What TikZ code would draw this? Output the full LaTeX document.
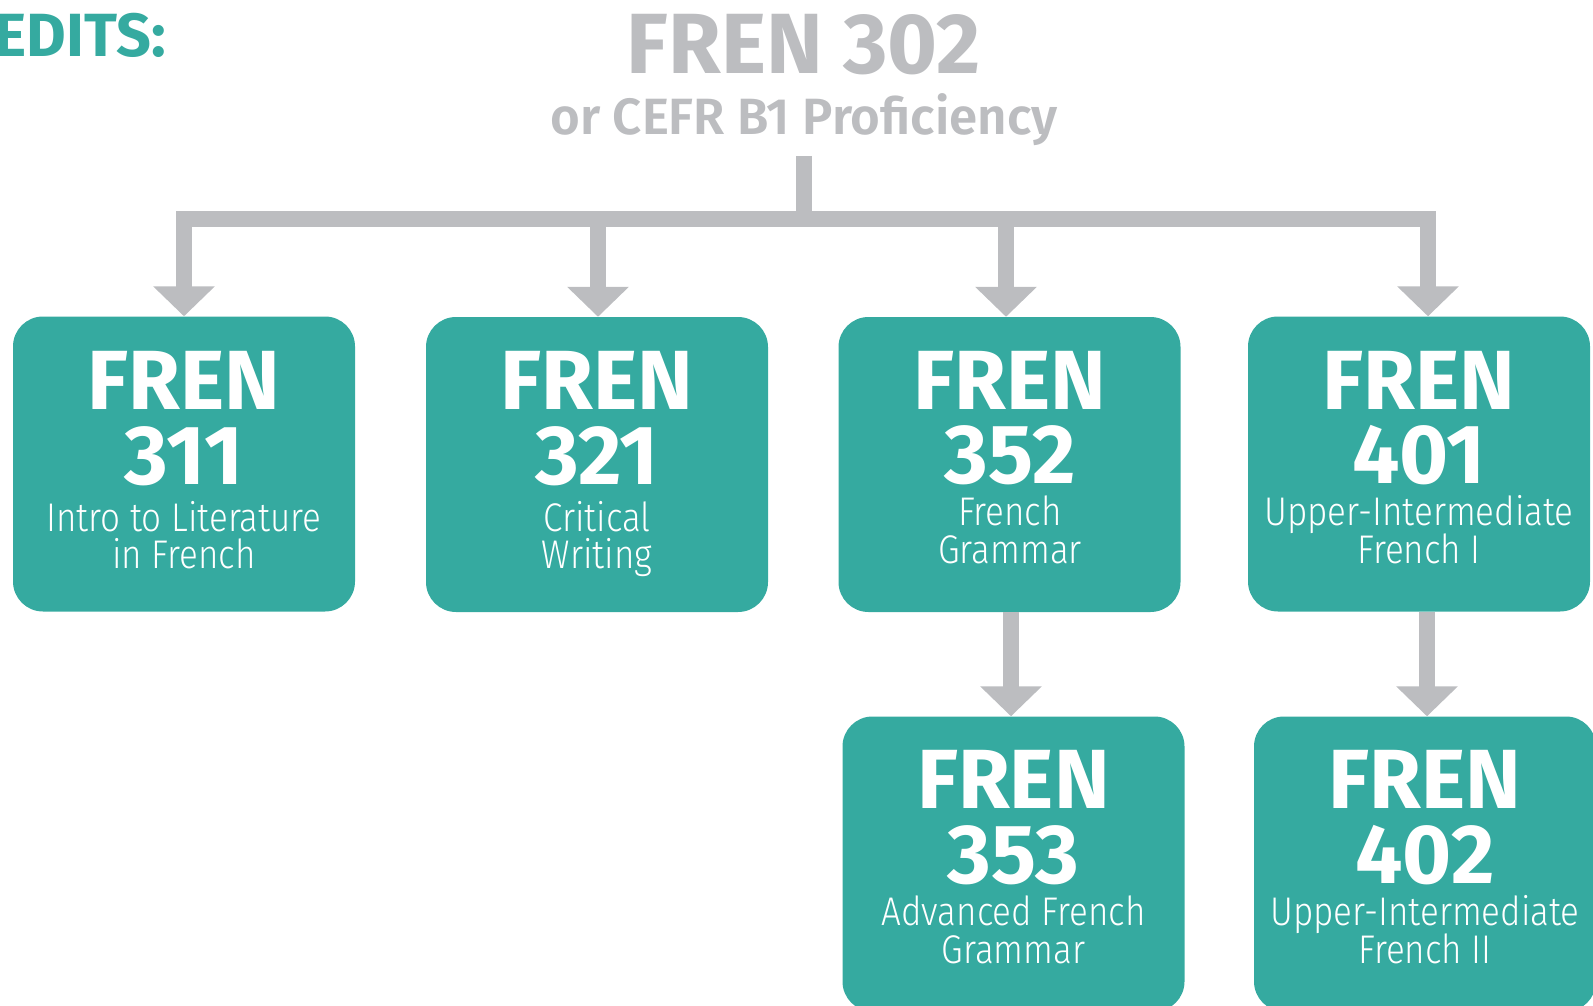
\documentclass[tikz,border=0pt]{standalone}
\usepackage{fontspec}
\setmainfont{Fira Sans}
\newfontfamily\boldf{Fira Sans Bold}
\newfontfamily\semif{Fira Sans SemiBold}
\newfontfamily\lightf{Fira Sans Light}[FakeStretch=0.875]
\usetikzlibrary{arrows.meta}
\definecolor{tealbox}{HTML}{35AAA0}
\definecolor{greyline}{HTML}{BCBDC0}
\tikzset{
  coursebox/.style={fill=tealbox, draw=none, rounded corners=30pt, minimum width=342pt, minimum height=295pt, inner sep=0pt},
  big/.style={text=white, font=\boldf\fontsize{84}{84}\selectfont, anchor=base, inner sep=0pt},
  small/.style={text=white, font=\lightf\fontsize{40}{40}\selectfont, anchor=base, inner sep=0pt},
  titletext/.style={text=greyline, font=\boldf\fontsize{85.5}{85.5}\selectfont, anchor=base, inner sep=0pt},
  subtext/.style={text=greyline, font=\semif\fontsize{51}{51}\selectfont, anchor=base, inner sep=0pt},
  conn/.style={draw=greyline, line width=16pt, -{Triangle[width=60pt,length=30pt]}},
  plainline/.style={draw=greyline, line width=16pt}
}
\begin{document}
\begin{tikzpicture}[x=1pt,y=-1pt]
\useasboundingbox (0,0) rectangle (1593,1006);

% header
\node[text=tealbox, font=\boldf\fontsize{61}{61}\selectfont, anchor=base east, inner sep=0pt] (credits) at (166,57) {EDITS:};
\node[titletext] (title) at (804,74) {FREN 302};
\node[subtext] (subtitle) at (804,135) {or CEFR B1 Proficiency};

% boxes
\node[coursebox] (box311) at (184,464) {};
\node[coursebox] (box321) at (597,464.5) {};
\node[coursebox] (box352) at (1009.5,464.5) {};
\node[coursebox] (box401) at (1419,464) {};
\node[coursebox] (box353) at (1013.5,864) {};
\node[coursebox] (box402) at (1425,864) {};

% box texts
\node[big] (f311) at (184,409) {FREN};
\node[big] (n311) at (184,484) {311};
\node[small] (d311a) at (184,531) {Intro to Literature};
\node[small] (d311b) at (184,568) {in French};

\node[big] (f321) at (597,409) {FREN};
\node[big] (n321) at (597,484) {321};
\node[small] (d321a) at (597,531) {Critical};
\node[small] (d321b) at (597,568) {Writing};

\node[big] (f352) at (1010,409) {FREN};
\node[big] (n352) at (1010,483) {352};
\node[small] (d352a) at (1010,525) {French};
\node[small] (d352b) at (1010,563) {Grammar};

\node[big] (f401) at (1419,409) {FREN};
\node[big] (n401) at (1419,483) {401};
\node[small] (d401a) at (1419,525) {Upper-Intermediate};
\node[small] (d401b) at (1419,563) {French I};

\node[big] (f353) at (1013.5,808) {FREN};
\node[big] (n353) at (1013.5,883) {353};
\node[small] (d353a) at (1013.5,925) {Advanced French};
\node[small] (d353b) at (1013.5,963) {Grammar};

\node[big] (f402) at (1425,808) {FREN};
\node[big] (n402) at (1425,883) {402};
\node[small] (d402a) at (1425,925) {Upper-Intermediate};
\node[small] (d402b) at (1425,963) {French II};

% connectors
\coordinate (stemtop) at (804,156);
\coordinate (hub) at (804,219);
\coordinate (x311) at (184,0);
\coordinate (x321) at (598,0);
\coordinate (x352) at (1006,0);
\coordinate (x401) at (1428,0);
\coordinate (x353) at (1011,0);
\coordinate (x402) at (1427,0);

\draw[plainline] (stemtop) -- (hub);
\draw[conn] (hub) -| (box311.north -| x311);
\draw[conn] (hub) -| (box321.north -| x321);
\draw[conn] (hub) -| (box352.north -| x352);
\draw[conn] (hub) -| (box401.north -| x401);
\draw[conn] (box352.south -| x353) -- (box353.north -| x353);
\draw[conn] (box401.south -| x402) -- (box402.north -| x402);
\end{tikzpicture}
\end{document}
